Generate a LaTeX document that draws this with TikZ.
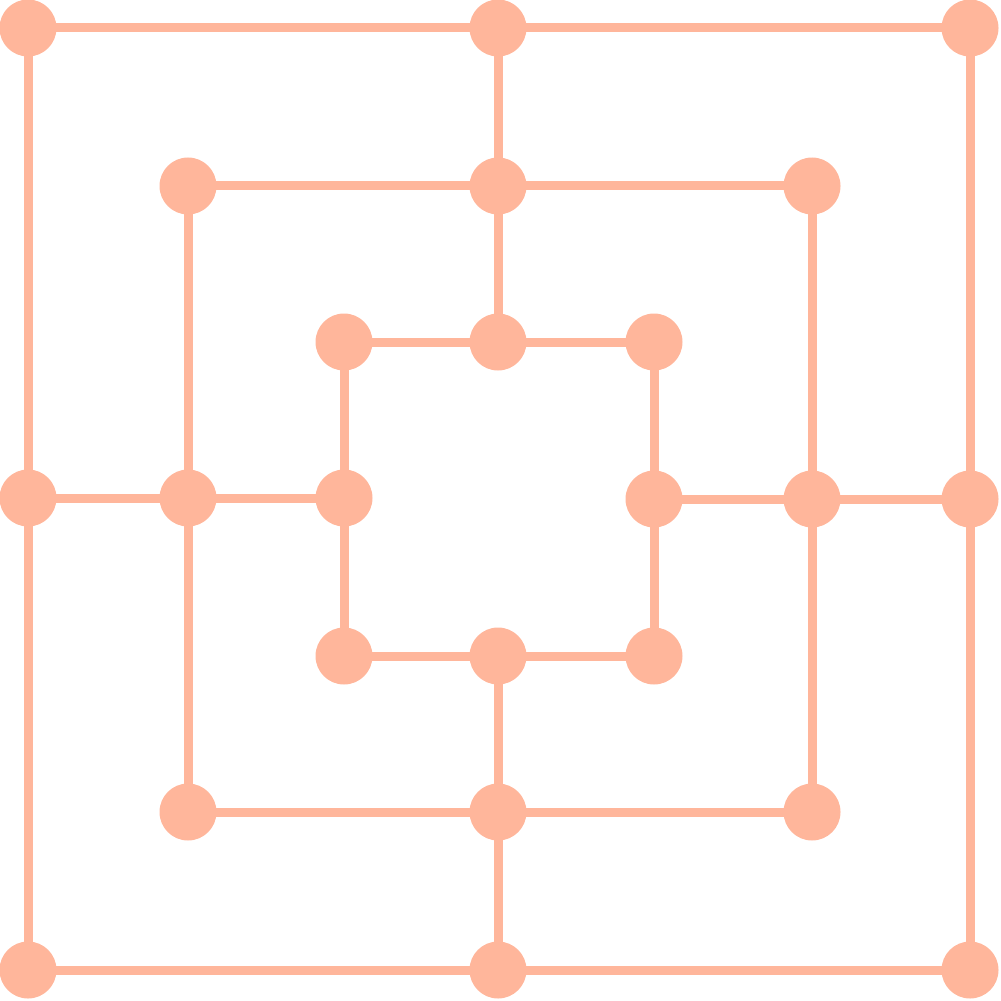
\documentclass[tikz,border=0pt]{standalone}
\usetikzlibrary{backgrounds}
\definecolor{salmon}{RGB}{255,182,155}
\tikzset{
  pt/.style={circle,fill=salmon,draw=none,inner sep=0pt,minimum size=5.7mm},
  edge/.style={draw=salmon,line width=0.9mm}
}
\begin{document}
\begin{tikzpicture}[x=0.1mm,y=-0.1mm]
\useasboundingbox (0,0) rectangle (1001,1001);
% outer square
\node[pt] (a1) at (28,28) {};
\node[pt] (a2) at (498,28) {};
\node[pt] (a3) at (970,28) {};
\node[pt] (a4) at (28,498) {};
\node[pt] (a5) at (970,499) {};
\node[pt] (a6) at (28,970) {};
\node[pt] (a7) at (498,970) {};
\node[pt] (a8) at (970,970) {};
% middle square
\node[pt] (b1) at (188,186) {};
\node[pt] (b2) at (498,186) {};
\node[pt] (b3) at (812,186) {};
\node[pt] (b4) at (188,498) {};
\node[pt] (b5) at (812,499) {};
\node[pt] (b6) at (188,812) {};
\node[pt] (b7) at (498,812) {};
\node[pt] (b8) at (812,812) {};
% inner square
\node[pt] (c1) at (344,342) {};
\node[pt] (c2) at (498,342) {};
\node[pt] (c3) at (654,342) {};
\node[pt] (c4) at (344,498) {};
\node[pt] (c5) at (654,499) {};
\node[pt] (c6) at (344,656) {};
\node[pt] (c7) at (498,656) {};
\node[pt] (c8) at (654,656) {};
\begin{scope}[on background layer]
\foreach \s in {a,b,c}{
  \draw[edge] (\s1.center) -- (\s2.center) -- (\s3.center) -- (\s5.center) -- (\s8.center) -- (\s7.center) -- (\s6.center) -- (\s4.center) -- cycle;
}
\draw[edge] (a2.center) -- (b2.center) -- (c2.center);
\draw[edge] (a7.center) -- (b7.center) -- (c7.center);
\draw[edge] (a4.center) -- (b4.center) -- (c4.center);
\draw[edge] (a5.center) -- (b5.center) -- (c5.center);
\end{scope}
\end{tikzpicture}
\end{document}
